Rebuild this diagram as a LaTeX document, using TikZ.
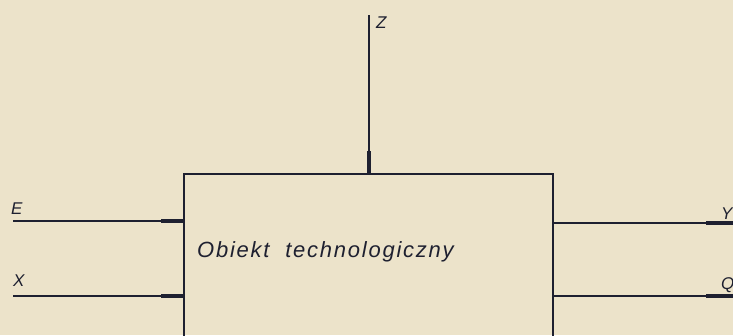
\documentclass[tikz,border=0pt]{standalone}
\usepackage{fontspec}
\setmainfont{Liberation Sans}
\usetikzlibrary{arrows.meta}
\definecolor{paper}{HTML}{ECE3CA}
\definecolor{ink}{HTML}{1E2030}
\tikzset{
  sig/.style={draw=ink, line width=1.3pt, -{Rectangle[length=22pt,width=4.5pt]}},
  outsig/.style={draw=ink, line width=1.3pt, -{Rectangle[length=27pt,width=4.5pt]}},
  lab/.style={text=ink, font=\itshape\fontsize{17}{17}\selectfont, inner sep=0pt},
  objbox/.style={draw=ink, line width=2pt, minimum width=369pt, minimum height=220pt, inner sep=0pt}
}
\begin{document}
\begin{tikzpicture}[x=1pt,y=-1pt]
\useasboundingbox (0,0) rectangle (733,335);
\fill[paper] (0,0) rectangle (733,335);
\clip (0,0) rectangle (733,335);
\node[objbox, anchor=north west] (obj) at (183,173) {};
\node[text=ink, font=\itshape\fontsize{22}{22}\selectfont\addfontfeatures{LetterSpace=8}, anchor=base west, inner sep=0pt] (txt) at (197,257) {Obiekt\ \ technologiczny};
\coordinate (ein) at (13,221);
\coordinate (xin) at (13,296);
\coordinate (zin) at (369,15);
\coordinate (yout) at (733,223);
\coordinate (qout) at (733,296);
\draw[sig] (ein) -- (ein -| obj.west);
\draw[sig] (xin) -- (xin -| obj.west);
\draw[sig] (zin) -- (zin |- obj.north);
\draw[outsig] (yout -| obj.east) -- (yout);
\draw[outsig] (qout -| obj.east) -- (qout);
\node[lab, anchor=base west] (le) at (11,214) {E};
\node[lab, anchor=base west] (lx) at (13,286) {X};
\node[lab, anchor=base west] (lz) at (376,28) {Z};
\node[lab, anchor=base west] (ly) at (721,219) {Y};
\node[lab, anchor=base west] (lq) at (721,289) {Q};
\end{tikzpicture}
\end{document}
